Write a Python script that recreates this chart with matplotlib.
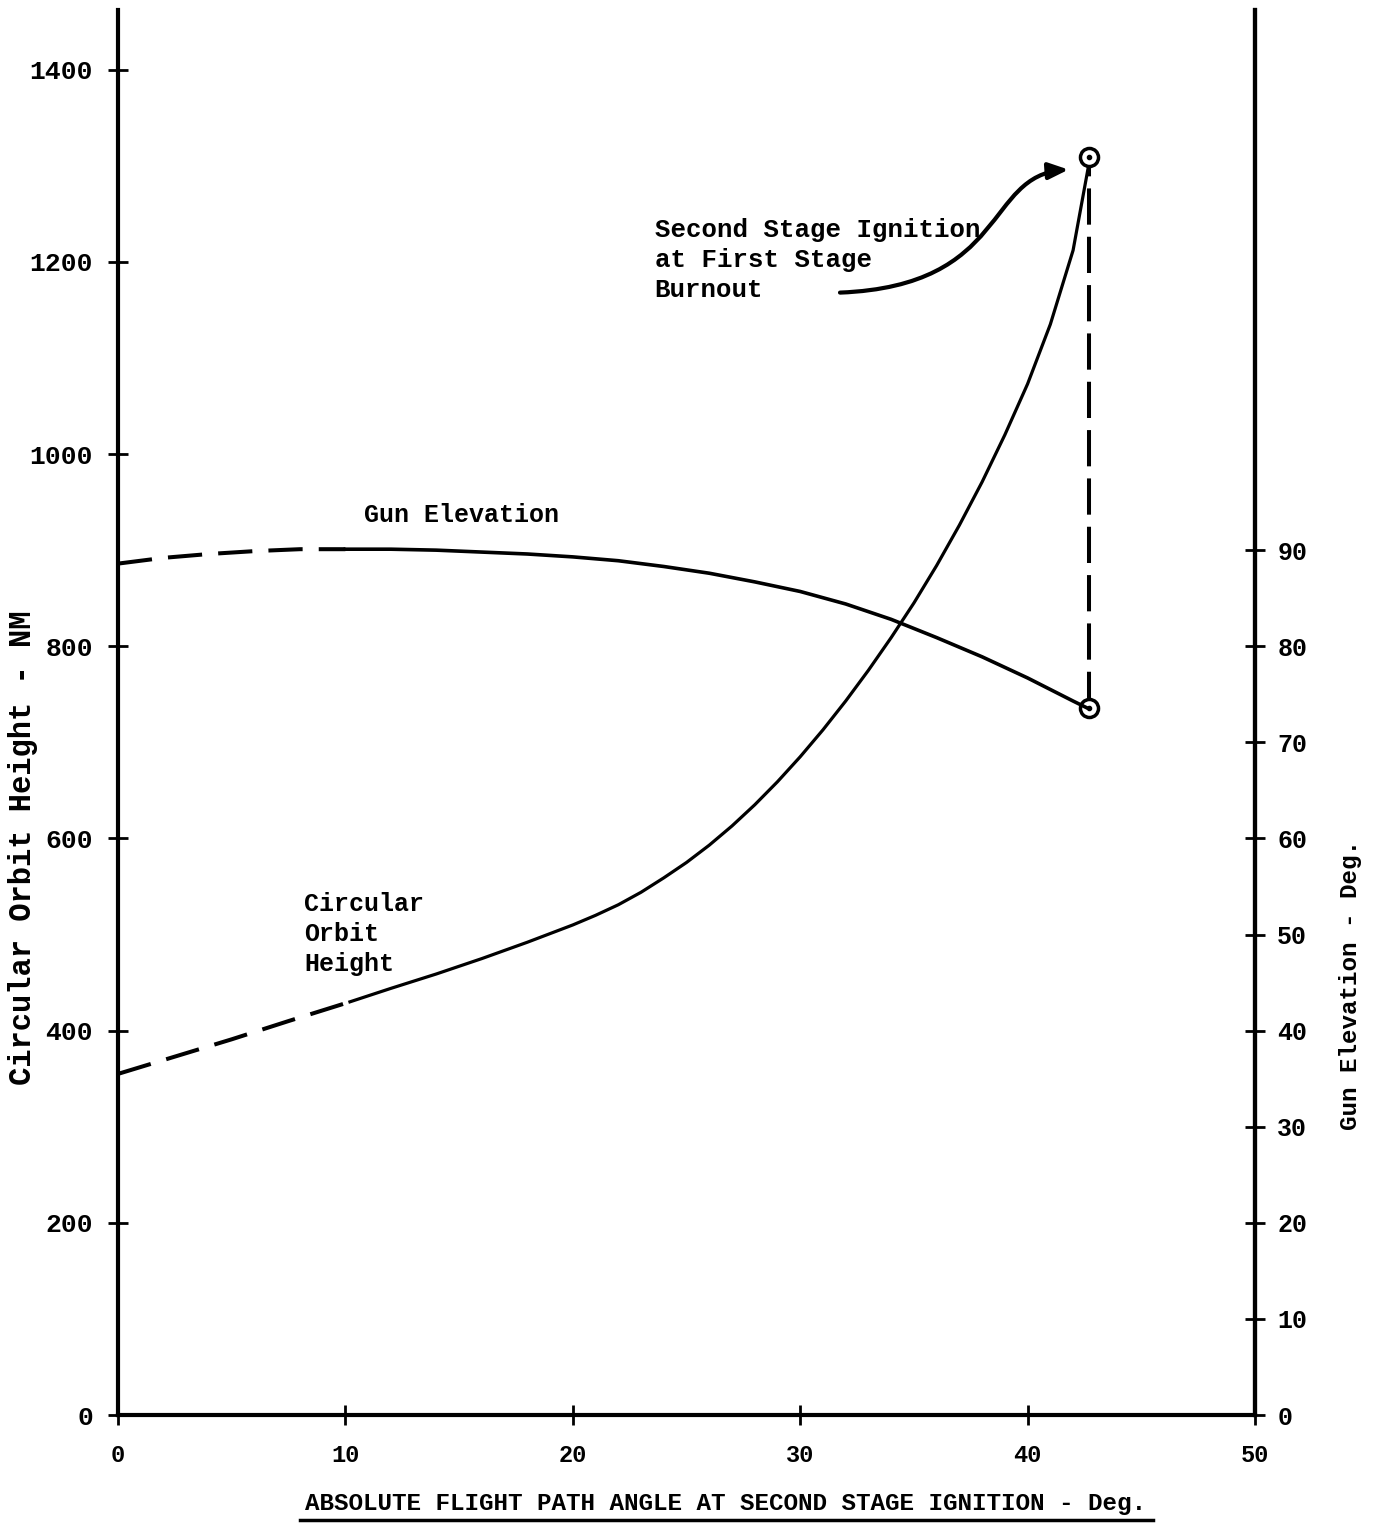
import numpy as np
import matplotlib.pyplot as plt
from matplotlib.lines import Line2D
from matplotlib.patches import FancyArrowPatch
from matplotlib.path import Path

# circular orbit height (NM) vs absolute flight path angle (deg)
orbit_angle = [0, 2.5, 5, 7.5, 10.2, 12, 14, 16, 18, 20, 21, 22, 23, 24, 25, 26, 27, 28, 29,
               30, 31, 32, 33, 34, 35, 36, 37, 38, 39, 40, 41, 42, 42.75]
orbit_height = [355, 373, 391, 410, 430, 444, 459, 475, 492, 510, 520, 531, 544, 559, 575,
                593, 613, 635, 659, 685, 713, 743, 775, 809, 845, 884, 926, 971, 1020, 1073,
                1135, 1212, 1309]
orbit_dash_end = 4  # dashed up to this index

# gun elevation (deg) vs flight path angle
gun_angle = [0, 2, 4, 6, 8, 10, 12, 14, 16, 18, 20, 22, 24, 26, 28, 30, 32, 34, 36, 38, 40, 42, 42.6]
gun_elev = [88.6, 89.2, 89.6, 89.9, 90.1, 90.1, 90.1, 90.0, 89.8, 89.6, 89.3, 88.9, 88.3,
            87.6, 86.7, 85.7, 84.4, 82.8, 80.9, 78.9, 76.7, 74.3, 73.6]
gun_dash_end = 5

burnout_angle = 42.7

x_ticks = [0, 10, 20, 30, 40, 50]
left_ticks = [0, 200, 400, 600, 800, 1000, 1200, 1400]
right_ticks = [0, 10, 20, 30, 40, 50, 60, 70, 80, 90]

plt.rcParams["font.family"] = "Liberation Mono"
plt.rcParams["font.weight"] = "bold"

fig = plt.figure(figsize=(13.77, 15.26), dpi=100)
ax = fig.add_axes([0.0857, 0.0727, 0.8257, 0.9207])
ax2 = ax.twinx()

ymax = 1462
ax.set_xlim(0, 50)
ax.set_ylim(0, ymax)
ax2.set_ylim(0, ymax / 10)

for a in (ax, ax2):
    a.spines["top"].set_visible(False)
    for s in ("left", "right", "bottom"):
        a.spines[s].set_linewidth(3)
ax2.spines["left"].set_visible(False)
ax2.spines["bottom"].set_visible(False)

ax.set_xticks(x_ticks)
ax.set_yticks(left_ticks)
ax2.set_yticks(right_ticks)
ax.tick_params(axis="x", direction="inout", length=14, width=2, labelsize=17, pad=14)
ax.tick_params(axis="y", direction="inout", length=14, width=2, labelsize=19, pad=11)
ax2.tick_params(axis="y", direction="inout", length=14, width=2, labelsize=18, pad=9)

lw = 2.3
dash = (0, (8.5, 4))
# orbit height
ax.plot(orbit_angle[:orbit_dash_end + 1], orbit_height[:orbit_dash_end + 1],
        color="black", lw=lw + 0.6, linestyle=dash)
ax.plot(orbit_angle[orbit_dash_end:], orbit_height[orbit_dash_end:], color="black", lw=lw)
# gun elevation
ax2.plot(gun_angle[:gun_dash_end + 1], gun_elev[:gun_dash_end + 1],
         color="black", lw=lw + 0.6, linestyle=dash)
ax2.plot(gun_angle[gun_dash_end:], gun_elev[gun_dash_end:], color="black", lw=lw + 0.3)

# vertical dashed connector at burnout
ax.plot([burnout_angle, burnout_angle], [gun_elev[-1] * 10, orbit_height[-1]],
        color="black", lw=lw + 0.6, linestyle=(0, (9, 3)))

# endpoint markers
for yv in (orbit_height[-1], gun_elev[-1] * 10):
    ax.plot(burnout_angle, yv, "o", ms=13, mfc="white", mec="black", mew=2.5, zorder=5)
    ax.plot(burnout_angle, yv, "o", ms=3, color="black", zorder=6)

ax.text(10.8, 937, "Gun Elevation", fontsize=18, ha="left", va="center")
ax.text(8.2, 457, "Circular\nOrbit\nHeight", fontsize=18, ha="left", va="bottom",
        linespacing=1.3)
ax.text(23.6, 1202, "Second Stage Ignition\nat First Stage\nBurnout", fontsize=18.5,
        ha="left", va="center", linespacing=1.3)

# hand-drawn style pointer to the burnout point
arrow_path = Path([(31.75, 1168), (39.2, 1175), (38.1, 1290), (41.8, 1296)],
                  [Path.MOVETO, Path.CURVE4, Path.CURVE4, Path.CURVE4])
ax.add_patch(FancyArrowPatch(path=arrow_path, arrowstyle="-|>,head_length=12,head_width=5",
                             lw=3, color="black", mutation_scale=1))

fig.text(0.0167, 0.4443, "Circular Orbit Height - NM", rotation=90, fontsize=22,
         ha="center", va="center")
fig.text(0.981, 0.3545, "Gun Elevation - Deg.", rotation=90, fontsize=17.5,
         ha="center", va="center")
fig.text(0.527, 0.0105, "ABSOLUTE FLIGHT PATH ANGLE AT SECOND STAGE IGNITION - Deg.",
         fontsize=17.5, ha="center", va="baseline")
fig.add_artist(Line2D([0.218, 0.837], [0.0039, 0.0039], color="black", lw=2.5,
                      transform=fig.transFigure))

fig.savefig("out.png", dpi=100)
